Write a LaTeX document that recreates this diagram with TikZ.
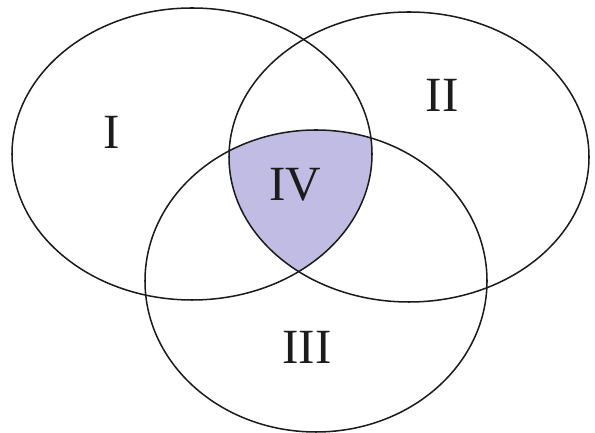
\documentclass[tikz,border=0pt]{standalone}
\usepackage{fontspec}
\setmainfont{Liberation Serif}
\definecolor{ink}{HTML}{1C1C1C}
\definecolor{lilac}{HTML}{C0BCE4}

\begin{document}
\begin{tikzpicture}[x=0.03cm,y=0.03cm,font=\fontsize{42}{48}\selectfont,text=ink]
  \useasboundingbox (0,0) rectangle (595,433);
  % common part of all three sets
  \begin{scope}
    \clip (192,279) ellipse [x radius=180, y radius=146];
    \clip (409,276) ellipse [x radius=180, y radius=145];
    \fill[lilac] (316,152) ellipse [x radius=171, y radius=151];
  \end{scope}
  \foreach \cx/\cy/\wd/\ht in {192/279/180/146,409/276/180/145,316/152/171/151}
    \draw[ink,line width=1.3pt] (\cx,\cy) ellipse [x radius=\wd, y radius=\ht];
  \node (one) at (112,301) {I};
  \node (two) at (442,338) {II};
  \node (three) at (307,86) {III};
  \node (four) at (295,248) {IV};
\end{tikzpicture}
\end{document}
